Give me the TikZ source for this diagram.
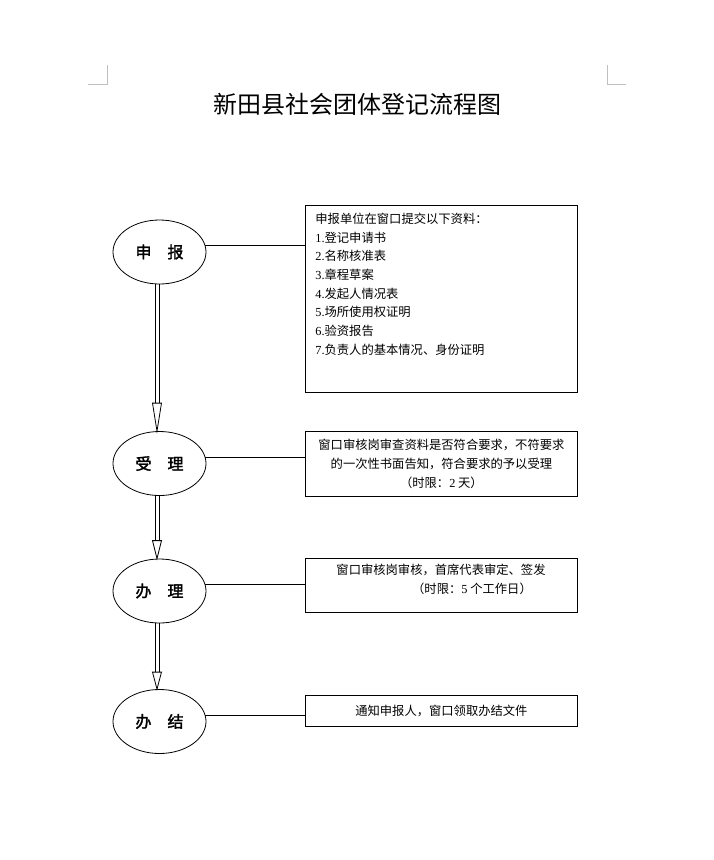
\documentclass[tikz,border=0pt]{standalone}
\usepackage{fontspec}
\setmainfont{Noto Sans CJK SC}[AutoFakeBold=2]
\newfontfamily\latin{Liberation Serif}
\usetikzlibrary{shapes.geometric}

\newcommand{\hollowarrow}[3]{%
  \draw ([xshift=-4.5pt]#1.south) -- ([xshift=-4.5pt,yshift=#3]#2.north);
  \draw ([xshift=-0.5pt]#1.south) -- ([xshift=-0.5pt,yshift=#3]#2.north);
  \draw[fill=white,line join=miter] ([xshift=-7pt,yshift=#3]#2.north) -- ([xshift=-2.5pt]#2.north) -- ([xshift=2pt,yshift=#3]#2.north) -- cycle;
}

\tikzset{
  stage/.style={draw, ellipse, minimum width=93pt, minimum height=64pt, inner sep=0pt,
    font=\fontsize{16}{18}\selectfont\bfseries},
  infobox/.style={draw, rectangle, minimum width=272pt, inner sep=0pt, anchor=north west},
  note/.style={font=\fontsize{12.3}{18.7}\selectfont, inner sep=0pt},
}

\begin{document}
\begin{tikzpicture}[x=1pt, y=-1pt, line width=0.8pt]
    \useasboundingbox (0,0) rectangle (714,860);
    \draw[gray!50, line width=0.6pt] (88,84.5) -- (107,84.5) -- (107,65);
    \draw[gray!50, line width=0.6pt] (607,65) -- (607,84.5) -- (626,84.5);
    \node (title) at (357,104) {\fontsize{24}{28}\selectfont 新田县社会团体登记流程图};

    \node[stage] (sb) at (159.5,252) {申\hspace{1em}报};
    \node[stage] (sl) at (159.5,463.5) {受\hspace{1em}理};
    \node[stage] (bl) at (159.5,591) {办\hspace{1em}理};
    \node[stage] (bj) at (159.5,721.5) {办\hspace{1em}结};

    \node[infobox, minimum height=187pt] (b1) at (305,205) {};
    \node[note, anchor=north west, align=left] (t1) at (315,212.5)
      {申报单位在窗口提交以下资料：\\
       {\latin 1.}登记申请书\\
       {\latin 2.}名称核准表\\
       {\latin 3.}章程草案\\
       {\latin 4.}发起人情况表\\
       {\latin 5.}场所使用权证明\\
       {\latin 6.}验资报告\\
       {\latin 7.}负责人的基本情况、身份证明};
    \node[infobox, note, minimum height=65pt, align=center] (b2) at (305,431)
      {窗口审核岗审查资料是否符合要求，不符要求\\
       的一次性书面告知，符合要求的予以受理\\
       （时限：{\latin 2} 天）};
    \node[infobox, minimum height=54pt] (b3) at (305,558) {};
    \node[note, align=center] (t3) at (441,579.5)
      {窗口审核岗审核，首席代表审定、签发\\
       \hspace*{62pt}（时限：{\latin 5} 个工作日）};
    \node[infobox, note, minimum height=31pt, align=center] (b4) at (305,695)
      {通知申报人，窗口领取办结文件};

    \draw (sb.8) -- (sb.8 -| b1.west);
    \draw (sl.8) -- (sl.8 -| b2.west);
    \draw (bl.8) -- (bl.8 -| b3.west);
    \draw (bj.8) -- (bj.8 -| b4.west);

    \hollowarrow{sb}{sl}{28pt}
    \hollowarrow{sl}{bl}{18pt}
    \hollowarrow{bl}{bj}{17pt}
\end{tikzpicture}
\end{document}
